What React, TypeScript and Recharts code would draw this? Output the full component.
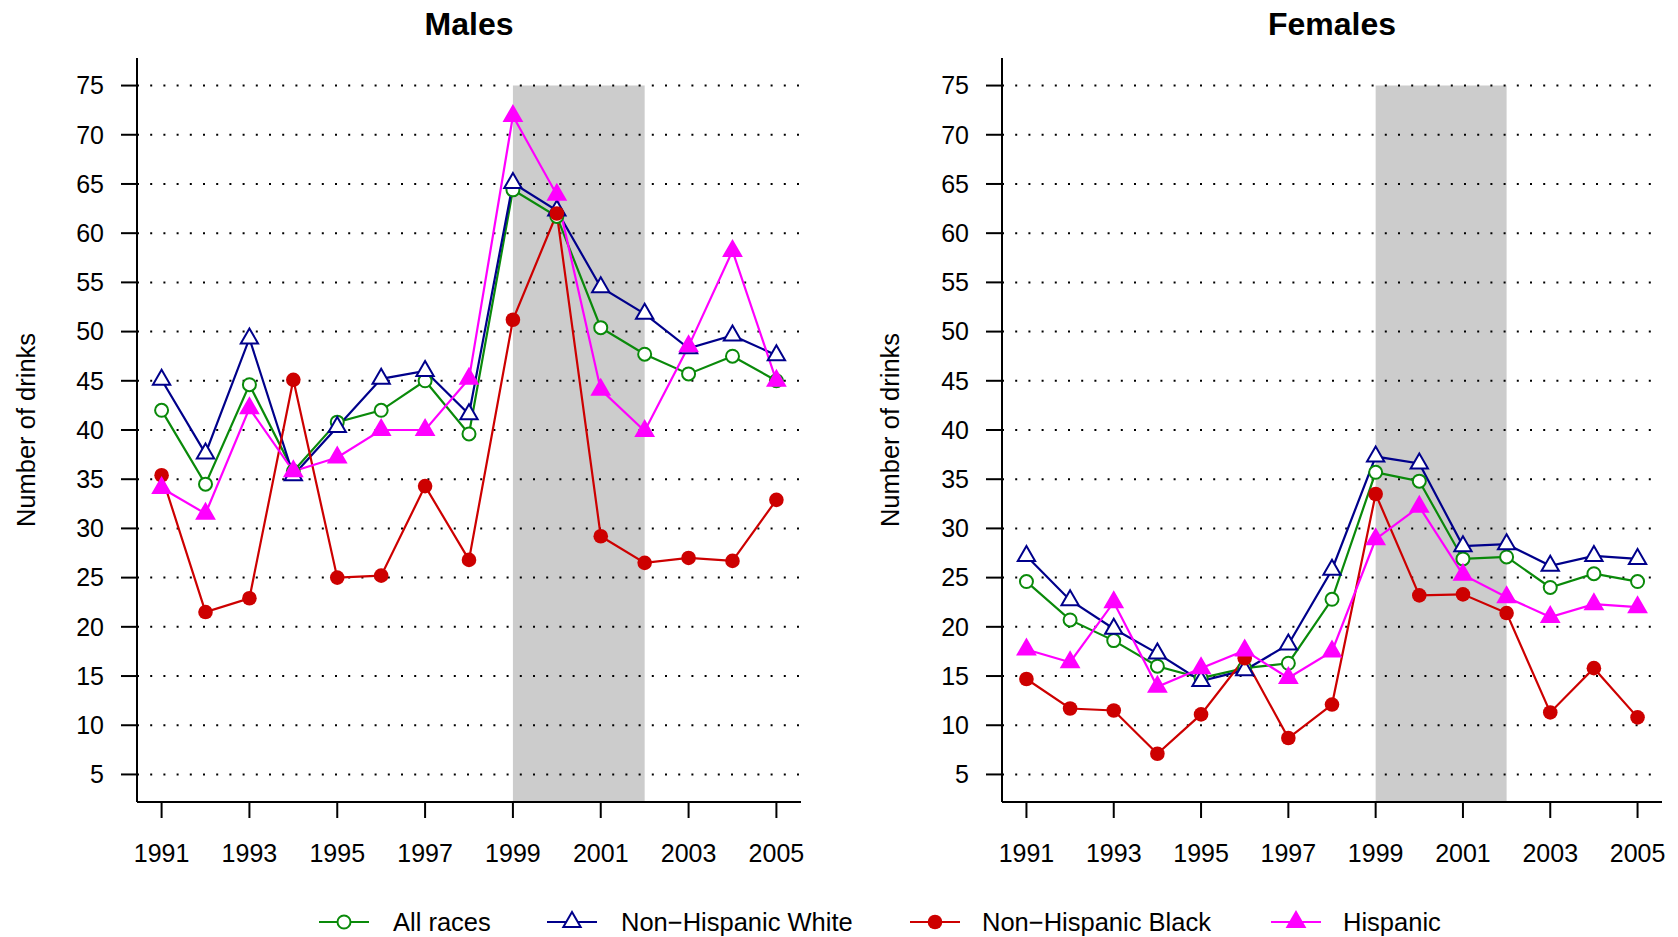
import { LineChart, Line, XAxis, YAxis, ReferenceArea, ReferenceLine } from 'recharts';

const years = [1991, 1992, 1993, 1994, 1995, 1996, 1997, 1998, 1999, 2000, 2001, 2002, 2003, 2004, 2005];
const yearTicks = [1991, 1993, 1995, 1997, 1999, 2001, 2003, 2005];
const drinkTicks = [5, 10, 15, 20, 25, 30, 35, 40, 45, 50, 55, 60, 65, 70, 75];
const seriesNames = ['All races', 'Non\u2212Hispanic White', 'Non\u2212Hispanic Black', 'Hispanic'];

const maleAll = [42.0, 34.5, 44.6, 35.8, 40.8, 42.0, 45.0, 39.6, 64.4, 61.7, 50.4, 47.7, 45.7, 47.5, 45.0];
const maleWhite = [45.1, 37.6, 49.3, 35.4, 40.3, 45.2, 46.0, 41.6, 65.1, 62.3, 54.5, 51.8, 48.3, 49.6, 47.6];
const maleBlack = [35.4, 21.5, 22.9, 45.1, 25.0, 25.2, 34.3, 26.8, 51.2, 62.0, 29.2, 26.5, 27.0, 26.7, 32.9];
const maleHisp = [34.1, 31.5, 42.2, 35.8, 37.2, 40.0, 40.0, 45.2, 71.9, 63.9, 44.1, 39.9, 48.5, 58.2, 45.0];

const femAll = [24.6, 20.7, 18.6, 16.0, 14.8, 15.8, 16.3, 22.8, 35.7, 34.8, 26.9, 27.1, 24.0, 25.4, 24.6];
const femWhite = [27.2, 22.7, 19.8, 17.3, 14.5, 15.6, 18.2, 25.8, 37.3, 36.6, 28.2, 28.4, 26.2, 27.2, 26.9];
const femBlack = [14.7, 11.7, 11.5, 7.1, 11.1, 16.8, 8.7, 12.1, 33.5, 23.2, 23.3, 21.4, 11.3, 15.8, 10.8];
const femHisp = [17.7, 16.4, 22.5, 13.9, 15.8, 17.6, 14.8, 17.5, 28.9, 32.2, 25.3, 23.0, 21.0, 22.3, 22.0];

const shadeFrom = 1999;
const shadeTo = 2002;

const xDomain = [1990.44, 2005.56];
const yDomain = [2.2, 77.8];

const GREEN = '#0a8a0a';
const NAVY = '#00008b';
const RED = '#cd0000';
const MAGENTA = '#ff00ff';
const FONT = '"Liberation Sans", Arial, Helvetica, sans-serif';

function buildRows(all: number[], white: number[], black: number[], hisp: number[]) {
  return years.map((year, i) => ({ year, all: all[i], white: white[i], black: black[i], hisp: hisp[i] }));
}

const maleRows = buildRows(maleAll, maleWhite, maleBlack, maleHisp);
const femaleRows = buildRows(femAll, femWhite, femBlack, femHisp);

// marker shapes, roughly R's pch 1, 2, 16, 17
function OpenCircle({ cx, cy }: { cx: number; cy: number }) {
  return <circle cx={cx} cy={cy} r={6.5} fill="white" stroke={GREEN} strokeWidth={2} />;
}
function Triangle({ cx, cy, color, filled }: { cx: number; cy: number; color: string; filled: boolean }) {
  const r = 10;
  const hw = r * 0.866;
  const pts = `${cx},${cy - r} ${cx + hw},${cy + r / 2} ${cx - hw},${cy + r / 2}`;
  return <polygon points={pts} fill={filled ? color : 'white'} stroke={color} strokeWidth={2} strokeLinejoin="miter" />;
}
function FilledCircle({ cx, cy }: { cx: number; cy: number }) {
  return <circle cx={cx} cy={cy} r={7.3} fill={RED} stroke="none" />;
}

const dotAll = (p: any) => <OpenCircle key={`a-${p.index}`} cx={p.cx} cy={p.cy} />;
const dotWhite = (p: any) => <Triangle key={`w-${p.index}`} cx={p.cx} cy={p.cy} color={NAVY} filled={false} />;
const dotBlack = (p: any) => <FilledCircle key={`b-${p.index}`} cx={p.cx} cy={p.cy} />;
const dotHisp = (p: any) => <Triangle key={`h-${p.index}`} cx={p.cx} cy={p.cy} color={MAGENTA} filled={true} />;

const tickStyle = { fill: '#000', fontSize: 25, fontFamily: FONT };

function Panel({ rows, left, width, margin }: { rows: any[]; left: number; width: number; margin: any }) {
  return (
    <div style={{ position: 'absolute', left, top: 0 }}>
      <LineChart width={width} height={880} data={rows} margin={margin}>
        <XAxis
          dataKey="year"
          type="number"
          domain={xDomain}
          ticks={yearTicks}
          allowDataOverflow
          height={60}
          tickSize={16}
          tickMargin={26}
          axisLine={{ stroke: '#000', strokeWidth: 2 }}
          tickLine={{ stroke: '#000', strokeWidth: 2 }}
          tick={tickStyle}
          interval={0}
        />
        <YAxis
          type="number"
          domain={yDomain}
          ticks={drinkTicks}
          allowDataOverflow
          width={60}
          tickSize={16}
          tickMargin={17}
          axisLine={{ stroke: '#000', strokeWidth: 2 }}
          tickLine={{ stroke: '#000', strokeWidth: 2 }}
          tick={tickStyle}
          interval={0}
        />
        <ReferenceArea x1={shadeFrom} x2={shadeTo} y1={yDomain[0]} y2={75} fill="#cccccc" fillOpacity={1} stroke="none" />
        {drinkTicks.map((v) => (
          <ReferenceLine key={v} y={v} stroke="#000" strokeWidth={2} strokeDasharray="2 11.2" />
        ))}
        <Line dataKey="all" stroke={GREEN} strokeWidth={2.2} dot={dotAll} isAnimationActive={false} />
        <Line dataKey="white" stroke={NAVY} strokeWidth={2.2} dot={dotWhite} isAnimationActive={false} />
        <Line dataKey="black" stroke={RED} strokeWidth={2.2} dot={dotBlack} isAnimationActive={false} />
        <Line dataKey="hisp" stroke={MAGENTA} strokeWidth={2.2} dot={dotHisp} isAnimationActive={false} />
      </LineChart>
    </div>
  );
}

const legendItems = [
  { x: 319, textX: 393, color: GREEN },
  { x: 547, textX: 621, color: NAVY },
  { x: 910, textX: 982, color: RED },
  { x: 1271, textX: 1343, color: MAGENTA },
];

function legendMarker(i: number, cx: number, cy: number) {
  if (i === 0) return <OpenCircle cx={cx} cy={cy} />;
  if (i === 1) return <Triangle cx={cx} cy={cy} color={NAVY} filled={false} />;
  if (i === 2) return <FilledCircle cx={cx} cy={cy} />;
  return <Triangle cx={cx} cy={cy} color={MAGENTA} filled={true} />;
}

export default function App() {
  const ly = 922;
  return (
    <div style={{ position: 'absolute', left: 0, top: 0, width: 1678, height: 937, background: '#fff', fontFamily: FONT }}>
      <Panel rows={maleRows} left={0} width={840} margin={{ top: 58, right: 39, bottom: 18, left: 77 }} />
      <Panel rows={femaleRows} left={840} width={838} margin={{ top: 58, right: 16, bottom: 18, left: 102 }} />
      <svg width={1678} height={937} style={{ position: 'absolute', left: 0, top: 0, pointerEvents: 'none' }}>
        <text x={469} y={35} textAnchor="middle" fontSize={32} fontWeight="bold" fontFamily={FONT} fill="#000">Males</text>
        <text x={1332} y={35} textAnchor="middle" fontSize={32} fontWeight="bold" fontFamily={FONT} fill="#000">Females</text>
        <text transform="translate(26,430) rotate(-90)" textAnchor="middle" dy="0.35em" fontSize={25.5} fontFamily={FONT} fill="#000">Number of drinks</text>
        <text transform="translate(890,430) rotate(-90)" textAnchor="middle" dy="0.35em" fontSize={25.5} fontFamily={FONT} fill="#000">Number of drinks</text>
        {legendItems.map((it, i) => (
          <g key={i}>
            <line x1={it.x} x2={it.x + 50} y1={ly} y2={ly} stroke={it.color} strokeWidth={2.2} />
            {legendMarker(i, it.x + 25, ly)}
            <text x={it.textX} y={ly} dy="0.35em" fontSize={25.5} fontFamily={FONT} fill="#000">{seriesNames[i]}</text>
          </g>
        ))}
      </svg>
    </div>
  );
}
